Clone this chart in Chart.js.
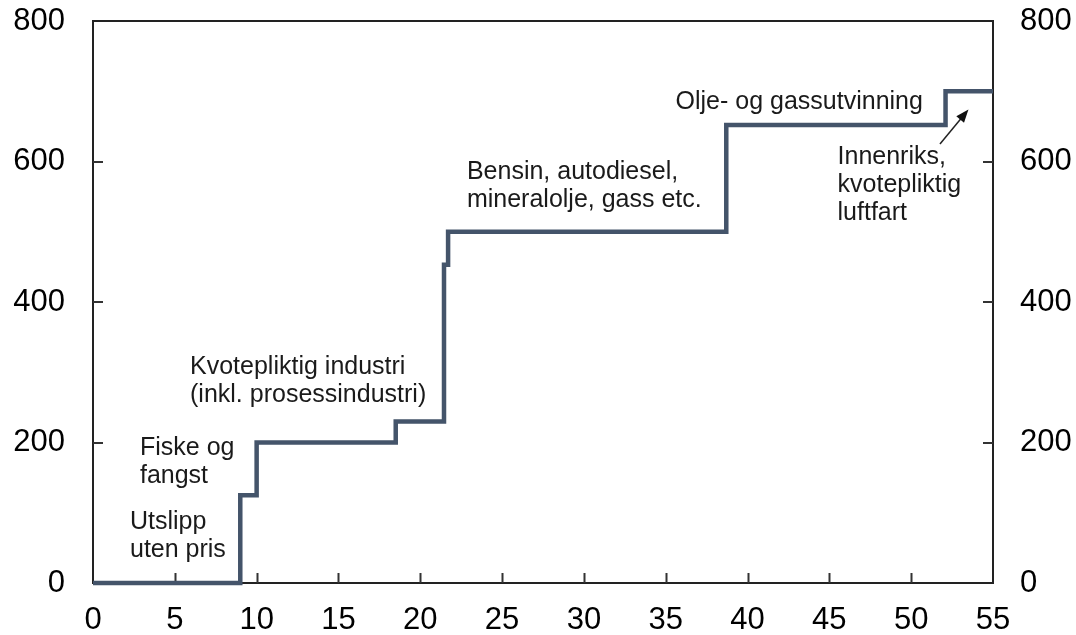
<!DOCTYPE html>
<html>
<head>
<meta charset="utf-8">
<script src="https://cdn.jsdelivr.net/npm/chart.js@4"></script>
<style>
html,body{margin:0;padding:0;background:#fff;}
#wrap{width:1076px;height:635px;}
</style>
</head>
<body>
<div id="wrap"><canvas id="c" width="1076" height="635"></canvas></div>
<script>
// Cumulative emissions (x) where each new price level starts, and price (y)
const emissionsCum = [0, 9.0, 10.0, 18.5, 21.45, 21.7, 38.7, 52.1, 55];
const price = [0, 125, 200, 230, 453, 500, 652, 700, 700];
const xTicks = [0, 5, 10, 15, 20, 25, 30, 35, 40, 45, 50, 55];
const yTicks = [0, 200, 400, 600, 800];

const labelTexts = [
  ["Olje- og gassutvinning"],
  ["Innenriks,", "kvotepliktig", "luftfart"],
  ["Bensin, autodiesel,", "mineralolje, gass etc."],
  ["Kvotepliktig industri", "(inkl. prosessindustri)"],
  ["Fiske og", "fangst"],
  ["Utslipp", "uten pris"]
];
const labelAnchors = [
  [35.6, 685], [45.5, 606], [22.85, 585], [5.93, 307], [2.87, 192], [2.26, 86]
];
const arrowFrom = [51.76, 625];
const arrowTo = [53.5, 674];

const FONT = "'Liberation Sans', Arial, sans-serif";
const pts = emissionsCum.map((x, i) => ({x: x, y: price[i]}));

const framePlugin = {
  id: 'frame',
  beforeDatasetsDraw(chart) {
    const {ctx, chartArea: a, scales} = chart;
    ctx.save();
    ctx.strokeStyle = '#222';
    ctx.lineWidth = 2;
    ctx.strokeRect(a.left, a.top, a.right - a.left, a.bottom - a.top);
    ctx.strokeStyle = '#333';
    ctx.lineWidth = 2;
    ctx.beginPath();
    xTicks.forEach(v => {
      if (v === 0 || v === 55) return;
      const px = Math.round(scales.x.getPixelForValue(v)) + 0.5;
      ctx.moveTo(px, a.bottom); ctx.lineTo(px, a.bottom - 10);
    });
    yTicks.forEach(v => {
      if (v === 0 || v === 800) return;
      const py = Math.round(scales.y.getPixelForValue(v));
      ctx.moveTo(a.left, py); ctx.lineTo(a.left + 10, py);
      ctx.moveTo(a.right, py); ctx.lineTo(a.right - 10, py);
    });
    ctx.stroke();
    ctx.restore();
  },
  afterDatasetsDraw(chart) {
    const {ctx, scales} = chart;
    ctx.save();
    ctx.fillStyle = '#1a1a1a';
    ctx.font = '25px ' + FONT;
    ctx.textBaseline = 'middle';
    ctx.textAlign = 'left';
    labelTexts.forEach((lines, i) => {
      const x = scales.x.getPixelForValue(labelAnchors[i][0]);
      const y = scales.y.getPixelForValue(labelAnchors[i][1]);
      lines.forEach((t, j) => ctx.fillText(t, x, y + j * 28));
    });
    // arrow
    const x1 = scales.x.getPixelForValue(arrowFrom[0]), y1 = scales.y.getPixelForValue(arrowFrom[1]);
    const x2 = scales.x.getPixelForValue(arrowTo[0]), y2 = scales.y.getPixelForValue(arrowTo[1]);
    const ang = Math.atan2(y2 - y1, x2 - x1);
    ctx.strokeStyle = '#222';
    ctx.lineWidth = 1.5;
    ctx.beginPath();
    ctx.moveTo(x1, y1);
    ctx.lineTo(x2 - 10 * Math.cos(ang), y2 - 10 * Math.sin(ang));
    ctx.stroke();
    ctx.fillStyle = '#111';
    ctx.beginPath();
    ctx.moveTo(x2, y2);
    ctx.lineTo(x2 - 13 * Math.cos(ang) + 5 * Math.sin(ang), y2 - 13 * Math.sin(ang) - 5 * Math.cos(ang));
    ctx.lineTo(x2 - 13 * Math.cos(ang) - 5 * Math.sin(ang), y2 - 13 * Math.sin(ang) + 5 * Math.cos(ang));
    ctx.closePath();
    ctx.fill();
    ctx.restore();
  }
};

function fixV(w) {
  return s => { s.width = w; s.paddingTop = 0; s.paddingBottom = 0; };
}

new Chart(document.getElementById('c'), {
  type: 'line',
  data: {
    datasets: [{
      data: pts,
      borderColor: '#44546A',
      borderWidth: 4.5,
      pointRadius: 0,
      stepped: 'before',
      fill: false,
      clip: false
    }]
  },
  options: {
    responsive: false,
    animation: false,
    layout: {padding: {top: 21, left: 0, right: 0, bottom: 0}},
    plugins: {legend: {display: false}, tooltip: {enabled: false}},
    scales: {
      x: {
        type: 'linear', min: 0, max: 55,
        afterBuildTicks: s => { s.ticks = xTicks.map(v => ({value: v})); },
        afterFit: s => { s.height = 52; s.paddingLeft = 0; s.paddingRight = 0; },
        grid: {display: false, drawTicks: false},
        border: {display: false},
        ticks: {font: {size: 31, family: FONT}, color: '#000', padding: 19, maxRotation: 0, autoSkip: false}
      },
      y: {
        position: 'left', min: 0, max: 800,
        afterBuildTicks: s => { s.ticks = yTicks.map(v => ({value: v})); },
        afterFit: fixV(93),
        grid: {display: false, drawTicks: false},
        border: {display: false},
        ticks: {font: {size: 31, family: FONT}, color: '#000', padding: 28}
      },
      y2: {
        position: 'right', min: 0, max: 800,
        afterBuildTicks: s => { s.ticks = yTicks.map(v => ({value: v})); },
        afterFit: fixV(83),
        grid: {display: false, drawTicks: false},
        border: {display: false},
        ticks: {font: {size: 31, family: FONT}, color: '#000', padding: 27}
      }
    }
  },
  plugins: [framePlugin]
});
</script>
</body>
</html>
